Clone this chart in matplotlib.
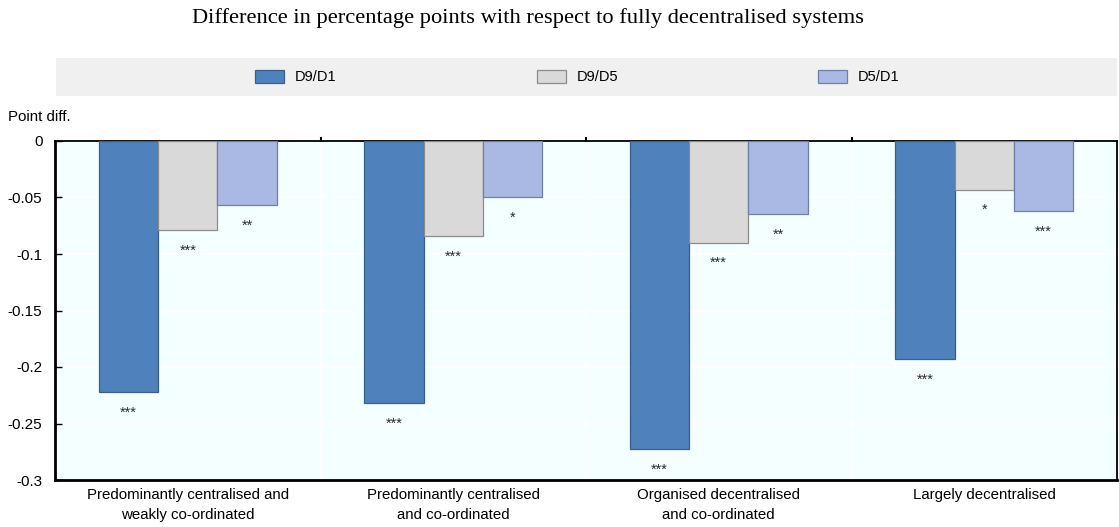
import matplotlib
matplotlib.use("Agg")
import matplotlib.pyplot as plt
from matplotlib.patches import Rectangle
import numpy as np

categories = [
    "Predominantly centralised and\nweakly co-ordinated",
    "Predominantly centralised\nand co-ordinated",
    "Organised decentralised\nand co-ordinated",
    "Largely decentralised",
]
series_names = ["D9/D1", "D9/D5", "D5/D1"]
d9_d1 = [-0.222, -0.232, -0.273, -0.193]
d9_d5 = [-0.079, -0.084, -0.090, -0.043]
d5_d1 = [-0.057, -0.050, -0.065, -0.062]
stars_d9_d1 = ["***", "***", "***", "***"]
stars_d9_d5 = ["***", "***", "***", "*"]
stars_d5_d1 = ["**", "*", "**", "***"]
yticks = [0, -0.05, -0.1, -0.15, -0.2, -0.25, -0.3]
ytick_labels = ["0", "-0.05", "-0.1", "-0.15", "-0.2", "-0.25", "-0.3"]

colors = ["#4F81BD", "#D9D9D9", "#A9B9E3"]
edges = ["#3A5F8C", "#8C8C8C", "#6E7FA8"]

plt.rcParams["font.family"] = ["Liberation Sans", "DejaVu Sans"]

fig = plt.figure(figsize=(11.19, 5.27), dpi=100)
W, H = 1119, 527
ax = fig.add_axes([55 / W, 1 - 480 / H, (1117 - 55) / W, (480 - 141) / H])
ax.set_facecolor("#F4FFFF")

x = np.arange(len(categories))
bw = 0.224
values = [d9_d1, d9_d5, d5_d1]
stars = [stars_d9_d1, stars_d9_d5, stars_d5_d1]
for i, (vals, st) in enumerate(zip(values, stars)):
    pos = x + (i - 1) * bw
    ax.bar(pos, vals, width=bw, color=colors[i], edgecolor=edges[i],
           linewidth=0.9, zorder=3, label=series_names[i])
    for p, v, s in zip(pos, vals, st):
        ax.text(p, v - 0.012, s, ha="center", va="top", fontsize=10.5,
                color="#2b2b2b", zorder=4)

ax.set_xlim(-0.5, len(categories) - 0.5)
ax.set_ylim(-0.3, 0)
ax.set_yticks(yticks)
ax.set_yticklabels(ytick_labels, fontsize=11)
ax.tick_params(axis="y", direction="in", length=5, width=1, pad=9)

# category labels and boundary ticks along the top
ax.set_xticks(x)
ax.set_xticklabels(categories, fontsize=10.8, linespacing=1.5)
ax.tick_params(axis="x", length=0, pad=6)
ax.grid(False)
for b in np.arange(0.5, len(categories) - 0.5, 1.0):
    ax.axvline(b, color="white", lw=1.2, zorder=1)
    ax.plot([b, b], [0, 0.003], color="black", lw=1.5, clip_on=False, zorder=5)
for yv in yticks[1:-1]:
    ax.axhline(yv, color="white", lw=1.2, zorder=1)

for side in ["left", "bottom", "top", "right"]:
    ax.spines[side].set_color("black")
ax.spines["left"].set_linewidth(2)
ax.spines["bottom"].set_linewidth(2)
ax.spines["top"].set_linewidth(1.3)
ax.spines["right"].set_linewidth(1.3)

# legend band
band = Rectangle((56 / W, 1 - 96 / H), (1117 - 56) / W, 38 / H,
                 transform=fig.transFigure, facecolor="#F0F0F0",
                 edgecolor="none", zorder=0)
fig.patches.append(band)
leg_x = [255, 537, 818]
for lx, name, c, e in zip(leg_x, series_names, colors, edges):
    fig.patches.append(Rectangle((lx / W, 1 - 83 / H), 29 / W, 13 / H,
                                 transform=fig.transFigure, facecolor=c,
                                 edgecolor=e, linewidth=0.9))
    fig.text((lx + 40) / W, 1 - 77 / H, name, fontsize=10.5, va="center",
             ha="left")

fig.text(8 / W, 1 - 117 / H, "Point diff.", fontsize=10.8, va="center",
         ha="left")
fig.text(528 / W, 1 - 18 / H,
         "Difference in percentage points with respect to fully decentralised systems",
         fontsize=16.2, ha="center", va="center",
         family=["Liberation Serif", "DejaVu Serif"])

fig.savefig("out.png", dpi=100)
